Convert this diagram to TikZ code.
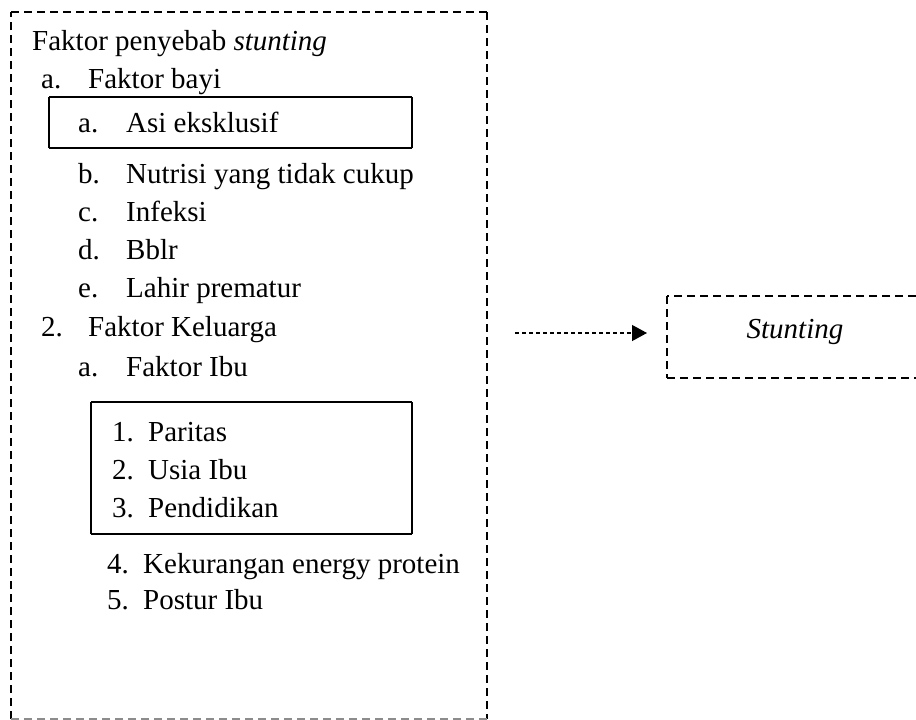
\documentclass[tikz,border=0pt]{standalone}
\usepackage{fontspec}
\setmainfont{Liberation Serif}
\usetikzlibrary{arrows.meta,positioning}
\pgfdeclarelayer{edgelayer}
\pgfdeclarelayer{nodelayer}
\pgfsetlayers{edgelayer,nodelayer,main}
\tikzstyle{none}=[inner sep=0pt]
\tikzstyle{entry}=[anchor=base west,inner sep=0pt,font=\fontsize{29}{34}\selectfont]
\tikzstyle{outcome}=[anchor=base,inner sep=0pt,font=\fontsize{29}{34}\selectfont\itshape]
\tikzstyle{frame}=[-,draw=black,line width=1.6,dash pattern=on 8pt off 5pt]
\tikzstyle{framelow}=[-,draw=black!45,line width=1.4,dash pattern=on 8pt off 5pt]
\tikzstyle{simple}=[-,draw=black,line width=1.6]
\tikzstyle{dasharrow}=[-{Triangle[length=15pt,width=16pt]},draw=black,line width=1.2,dash pattern=on 4pt off 3pt,shorten >=20pt]

\begin{document}
\begin{tikzpicture}[x=1pt,y=-1pt]
	\useasboundingbox (0,0) rectangle (916,720);
	\begin{pgfonlayer}{nodelayer}
		\node [style=entry] (title) at (32,50) {Faktor penyebab \textit{stunting}};
		\node [style=entry] (a1) at (41,88) {a.};
		\node [style=entry] (bayi) at (88,88) {Faktor bayi};
		\node [style=entry] (a2) at (78,132) {a.};
		\node [style=entry] (asi) at (126,132) {Asi eksklusif};
		\node [style=entry] (b) at (78,183) {b.};
		\node [style=entry] (nutrisi) at (126,183) {Nutrisi yang tidak cukup};
		\node [style=entry] (c) at (78,221) {c.};
		\node [style=entry] (infeksi) at (126,221) {Infeksi};
		\node [style=entry] (d) at (78,259) {d.};
		\node [style=entry] (bblr) at (126,259) {Bblr};
		\node [style=entry] (e) at (78,297) {e.};
		\node [style=entry] (lahir) at (126,297) {Lahir prematur};
		\node [style=entry] (n2) at (41,336) {2.};
		\node [style=entry] (keluarga) at (88,336) {Faktor Keluarga};
		\node [style=entry] (a3) at (78,376) {a.};
		\node [style=entry] (ibu) at (126,376) {Faktor Ibu};
		\node [style=entry] (i1) at (112,441) {1.};
		\node [style=entry] (paritas) at (148,441) {Paritas};
		\node [style=entry] (i2) at (112,479) {2.};
		\node [style=entry] (usia) at (148,479) {Usia Ibu};
		\node [style=entry] (i3) at (112,517) {3.};
		\node [style=entry] (pendidikan) at (148,517) {Pendidikan};
		\node [style=entry] (i4) at (107,573) {4.};
		\node [style=entry] (kep) at (143,573) {Kekurangan energy protein};
		\node [style=entry] (i5) at (107,609) {5.};
		\node [style=entry] (postur) at (143,609) {Postur Ibu};
		\node [style=outcome] (stunting) at (795,338) {Stunting};
		\node [style=none] (OTL) at (11,12) {};
		\node [style=none] (OTR) at (487,12) {};
		\node [style=none] (OBR) at (487,719) {};
		\node [style=none] (OBL) at (11,719) {};
		\node [style=none] (ATL) at (49,97) {};
		\node [style=none] (ATR) at (412,97) {};
		\node [style=none] (ABR) at (412,148) {};
		\node [style=none] (ABL) at (49,148) {};
		\node [style=none] (BTL) at (91,402) {};
		\node [style=none] (BTR) at (412,402) {};
		\node [style=none] (BBR) at (412,534) {};
		\node [style=none] (BBL) at (91,534) {};
		\node [style=none] (STL) at (667,296) {};
		\node [style=none] (STR) at (916,296) {};
		\node [style=none] (SBR) at (916,378) {};
		\node [style=none] (SBL) at (667,378) {};
		\node [style=none] (SML) at (667,333) {};
		\node [style=none] (tail) at (515,333) {};
	\end{pgfonlayer}
	\begin{pgfonlayer}{edgelayer}
		\draw [style=frame] (OBL.center) to (OTL.center);
		\draw [style=frame] (OTL.center) to (OTR.center);
		\draw [style=frame] (OTR.center) to (OBR.center);
		\draw [style=framelow] (OBR.center) to (OBL.center);
		\draw [style=simple] (ATL.center) to (ATR.center);
		\draw [style=simple] (ATR.center) to (ABR.center);
		\draw [style=simple] (ABR.center) to (ABL.center);
		\draw [style=simple] (ABL.center) to (ATL.center);
		\draw [style=simple] (BTL.center) to (BTR.center);
		\draw [style=simple] (BTR.center) to (BBR.center);
		\draw [style=simple] (BBR.center) to (BBL.center);
		\draw [style=simple] (BBL.center) to (BTL.center);
		\draw [style=frame] (STR.center) to (STL.center);
		\draw [style=frame] (STL.center) to (SBL.center);
		\draw [style=frame] (SBL.center) to (SBR.center);
		\draw [style=dasharrow] (tail.center) to (SML.center);
	\end{pgfonlayer}
\end{tikzpicture}
\end{document}
